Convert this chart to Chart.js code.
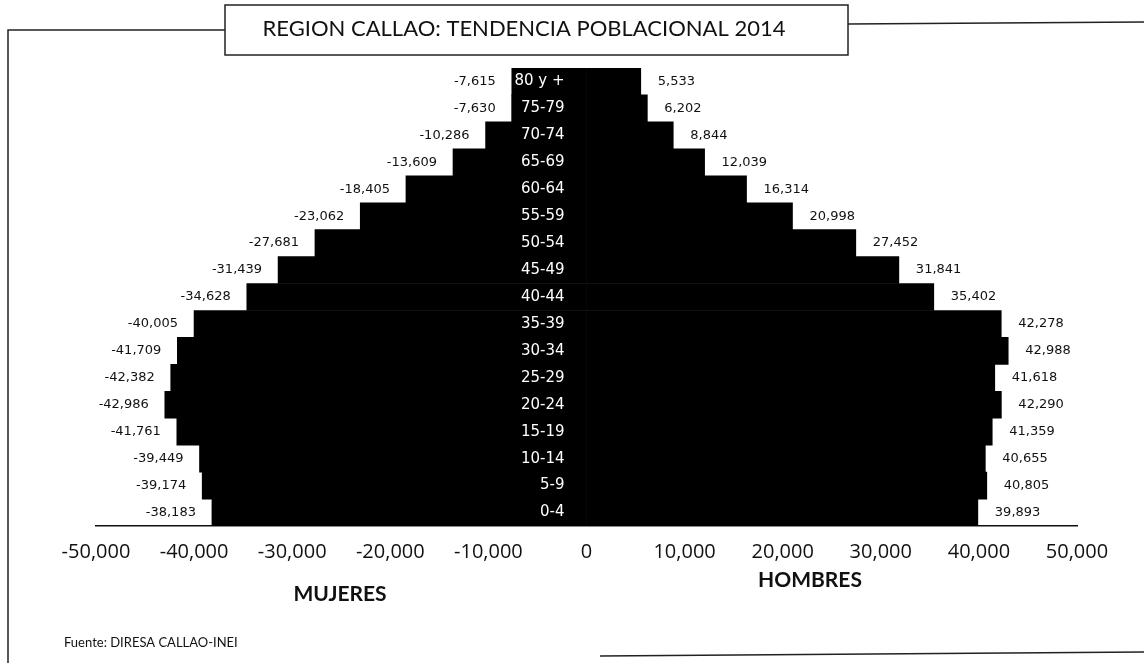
<!DOCTYPE html>
<html>
<head>
<meta charset="utf-8">
<script src="https://cdn.jsdelivr.net/npm/chart.js@4.4.1/dist/chart.umd.min.js"></script>
<style>
  body { margin: 0; background: #fff; }
  #wrap { width: 1144px; height: 663px; position: relative; }
</style>
</head>
<body>
<div id="wrap"><canvas id="pyr"></canvas></div>
<script>
// age groups, top of the pyramid first
var ageGroups = ['80 y +', '75-79', '70-74', '65-69', '60-64', '55-59', '50-54', '45-49',
  '40-44', '35-39', '30-34', '25-29', '20-24', '15-19', '10-14', '5-9', '0-4'];
var mujeres = [-7615, -7630, -10286, -13609, -18405, -23062, -27681, -31439,
  -34628, -40005, -41709, -42382, -42986, -41761, -39449, -39174, -38183];
var hombres = [5533, 6202, 8844, 12039, 16314, 20998, 27452, 31841,
  35402, 42278, 42988, 41618, 42290, 41359, 40655, 40805, 39893];
var xTicks = [-50000, -40000, -30000, -20000, -10000, 0, 10000, 20000, 30000, 40000, 50000];

var titleText = 'REGION CALLAO: TENDENCIA POBLACIONAL 2014';

function fmt(v) {
  return v.toLocaleString('en-US');
}

// frame, title box and the loose texts of the scanned sheet
var sheet = {
  id: 'sheet',
  beforeDraw: function(chart) {
    var c = chart.ctx;
    c.save();
    c.strokeStyle = '#222';
    c.lineWidth = 1.5;
    c.beginPath();
    c.moveTo(8, 663); c.lineTo(8, 30); c.lineTo(225, 30);
    c.moveTo(848, 24); c.lineTo(1144, 22);
    c.moveTo(600, 656); c.lineTo(1144, 652);
    c.stroke();
    c.strokeRect(225, 5, 623, 50);
    c.restore();
  },
  afterDraw: function(chart) {
    var c = chart.ctx;
    c.save();
    c.fillStyle = '#111';
    c.textBaseline = 'middle';
    c.textAlign = 'center';
    c.font = '22px Lato';
    c.fillText(titleText, 524, 29);
    c.font = 'bold 21px Lato';
    c.fillText('MUJERES', 340, 594);
    c.fillText('HOMBRES', 810, 580);
    c.textAlign = 'left';
    c.font = '13px Lato';
    c.fillText('Fuente: DIRESA CALLAO-INEI', 64, 643);
    c.restore();
  }
};

// value labels beside the bars and age labels at the zero line
var barText = {
  id: 'barText',
  afterDatasetsDraw: function(chart) {
    var c = chart.ctx;
    var xs = chart.scales.x, ys = chart.scales.y;
    c.save();
    c.textBaseline = 'middle';
    c.font = '13px "DejaVu Sans"';
    c.fillStyle = '#111';
    chart.data.datasets.forEach(function(ds, i) {
      chart.getDatasetMeta(i).data.forEach(function(bar, j) {
        var v = ds.data[j];
        if (v < 0) {
          c.textAlign = 'right';
          c.fillText(fmt(v), bar.x - 16, bar.y);
        } else {
          c.textAlign = 'left';
          c.fillText(fmt(v), bar.x + 17, bar.y);
        }
      });
    });
    c.fillStyle = '#fff';
    c.textAlign = 'right';
    c.font = '15px "DejaVu Sans"';
    var x0 = xs.getPixelForValue(0);
    ageGroups.forEach(function(g, j) {
      c.fillText(g, x0 - 22, ys.getPixelForValue(j));
    });
    c.restore();
  }
};

var ctx = document.getElementById('pyr');
var chart = new Chart(ctx, {
  type: 'bar',
  data: {
    labels: ageGroups,
    datasets: [{
      label: 'MUJERES',
      data: mujeres,
      backgroundColor: '#000',
      barPercentage: 1,
      categoryPercentage: 1
    }, {
      label: 'HOMBRES',
      data: hombres,
      backgroundColor: '#000',
      barPercentage: 1,
      categoryPercentage: 1
    }]
  },
  options: {
    indexAxis: 'y',
    responsive: true,
    maintainAspectRatio: false,
    animation: false,
    layout: {
      padding: { left: 96, right: 67, top: 68, bottom: 85 }
    },
    plugins: {
      legend: { display: false },
      tooltip: { enabled: false },
      title: { display: false }
    },
    scales: {
      x: {
        type: 'linear',
        stacked: true,
        min: -50000,
        max: 50000,
        afterBuildTicks: function(axis) {
          axis.ticks = xTicks.map(function(v) { return { value: v }; });
        },
        grid: { display: false, drawTicks: false },
        border: { display: true, color: '#111', width: 1.5 },
        ticks: {
          padding: 14,
          color: '#111',
          font: { family: 'Open Sans', size: 20 },
          callback: function(v) { return fmt(v); }
        }
      },
      y: {
        type: 'category',
        stacked: true,
        display: false
      }
    }
  },
  plugins: [sheet, barText]
});
</script>
</body>
</html>
